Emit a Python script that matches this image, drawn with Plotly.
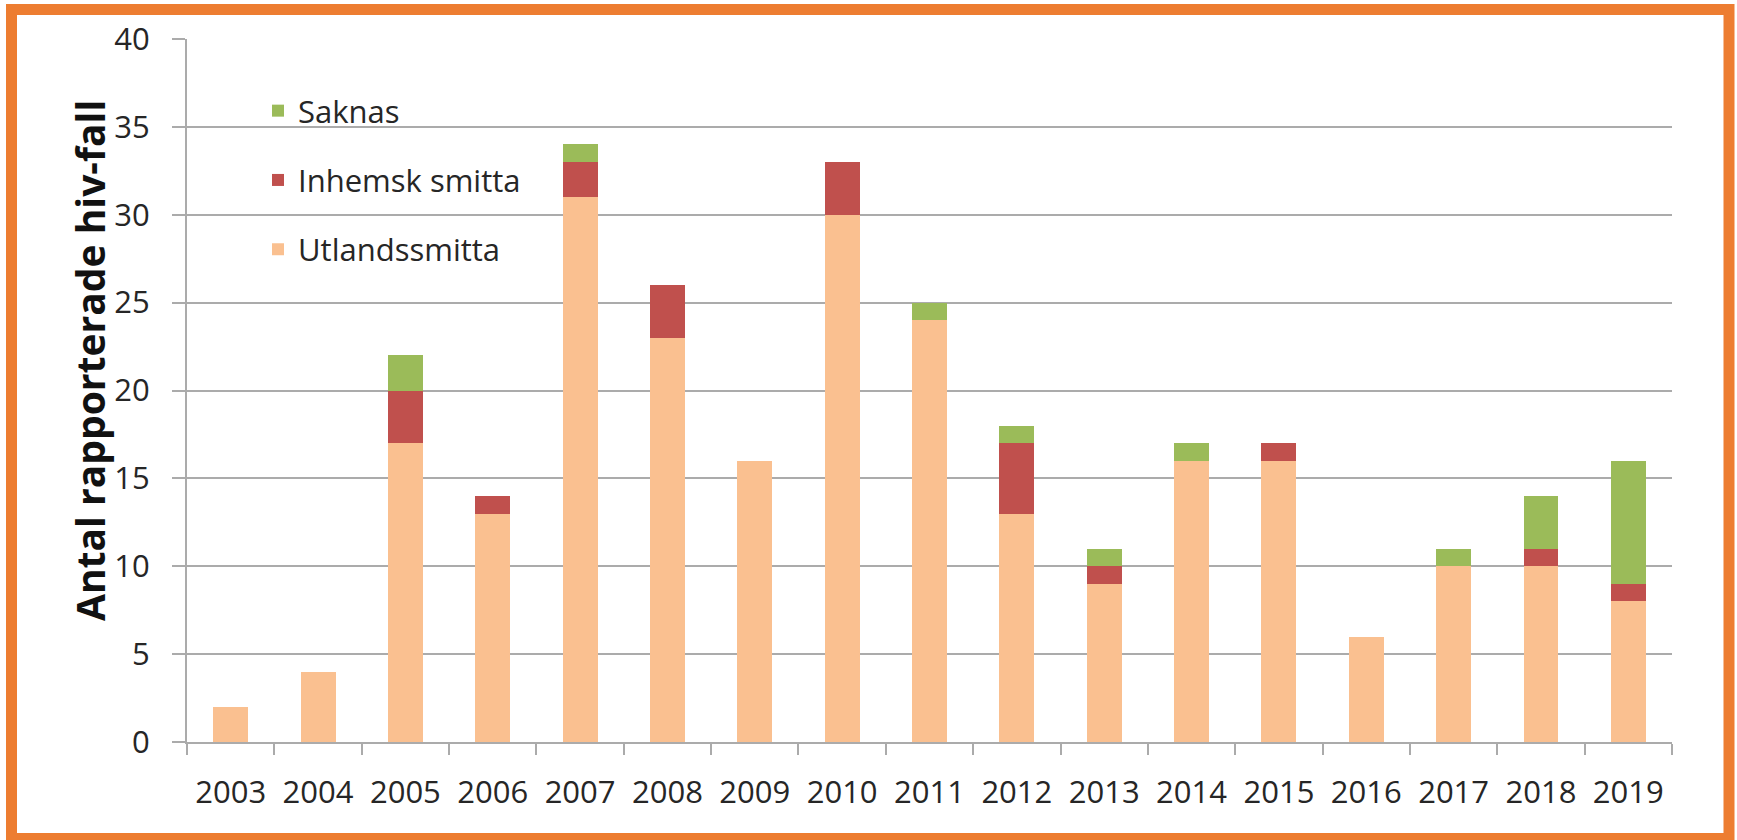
import plotly.graph_objects as go

years = ["2003", "2004", "2005", "2006", "2007", "2008", "2009", "2010", "2011",
         "2012", "2013", "2014", "2015", "2016", "2017", "2018", "2019"]
utlandssmitta = [2, 4, 17, 13, 31, 23, 16, 30, 24, 13, 9, 16, 16, 6, 10, 10, 8]
inhemsk_smitta = [0, 0, 3, 1, 2, 3, 0, 3, 0, 4, 1, 0, 1, 0, 0, 1, 1]
saknas = [0, 0, 2, 0, 1, 0, 0, 0, 1, 1, 1, 1, 0, 0, 1, 3, 7]
y_ticks = [0, 5, 10, 15, 20, 25, 30, 35, 40]
y_title = "Antal rapporterade hiv-fall"

# (name, values, colour, legend rank)
series = [
    ("Utlandssmitta", utlandssmitta, "#FAC090", 3),
    ("Inhemsk smitta", inhemsk_smitta, "#C0504D", 2),
    ("Saknas", saknas, "#9BBB59", 1),
]

FONT = "Open Sans"
TXT = "#262626"
GRID = "#ABABAB"

fig = go.Figure()
for name, vals, col, rank in series:
    fig.add_trace(go.Bar(
        x=years, y=vals, name=name, legendgroup=name, legendrank=rank,
        marker=dict(color=col, line=dict(width=0)),
    ))

W, H = 1737, 840
L, R, T, B = 187, 1672, 39, 742  # plot area in pixels


def px_x(p):
    return (p - L) / (R - L)


def px_y(p):
    return (B - p) / (B - T)


fig.update_layout(
    width=W, height=H,
    margin=dict(l=L, r=W - R, t=T, b=H - B),
    paper_bgcolor="white", plot_bgcolor="white",
    barmode="stack", bargap=0.6,
    font=dict(family=FONT, size=31, color=TXT),
    showlegend=True,
    legend=dict(
        x=px_x(258), y=px_y(84), xanchor="left", yanchor="top",
        traceorder="grouped", tracegroupgap=26,
        font=dict(family=FONT, size=31, color=TXT),
        bgcolor="rgba(0,0,0,0)",
    ),
    xaxis=dict(
        type="category", showgrid=False,
        showline=True, linecolor=GRID, linewidth=2,
        ticks="outside", ticklen=11, tickwidth=2, tickcolor=GRID,
        tickson="boundaries", ticklabelstandoff=22,
        tickfont=dict(family=FONT, size=31, color=TXT),
    ),
    yaxis=dict(
        range=[0, 40], tickvals=y_ticks,
        showgrid=True, gridcolor=GRID, gridwidth=2,
        showline=True, linecolor=GRID, linewidth=2,
        ticks="outside", ticklen=13, tickwidth=2, tickcolor=GRID,
        ticklabelstandoff=16, zeroline=False,
        tickfont=dict(family=FONT, size=31, color=TXT),
    ),
    annotations=[dict(
        text="<b>" + y_title + "</b>", textangle=-90,
        xref="paper", yref="paper", x=px_x(89), y=px_y(361),
        xanchor="center", yanchor="middle", showarrow=False,
        font=dict(family=FONT, size=39, color="#111111"),
    )],
    shapes=[dict(
        type="rect", xref="paper", yref="paper",
        x0=px_x(11.5), x1=px_x(1729), y0=px_y(838.5), y1=px_y(9.5),
        line=dict(color="#ED7D31", width=11), fillcolor="rgba(0,0,0,0)",
        layer="above",
    )],
)

fig.write_html(
    "out.html",
    config={"displayModeBar": False},
    post_script="document.body.style.margin='0';document.body.style.padding='0';"
                "document.body.style.overflow='hidden';",
)
